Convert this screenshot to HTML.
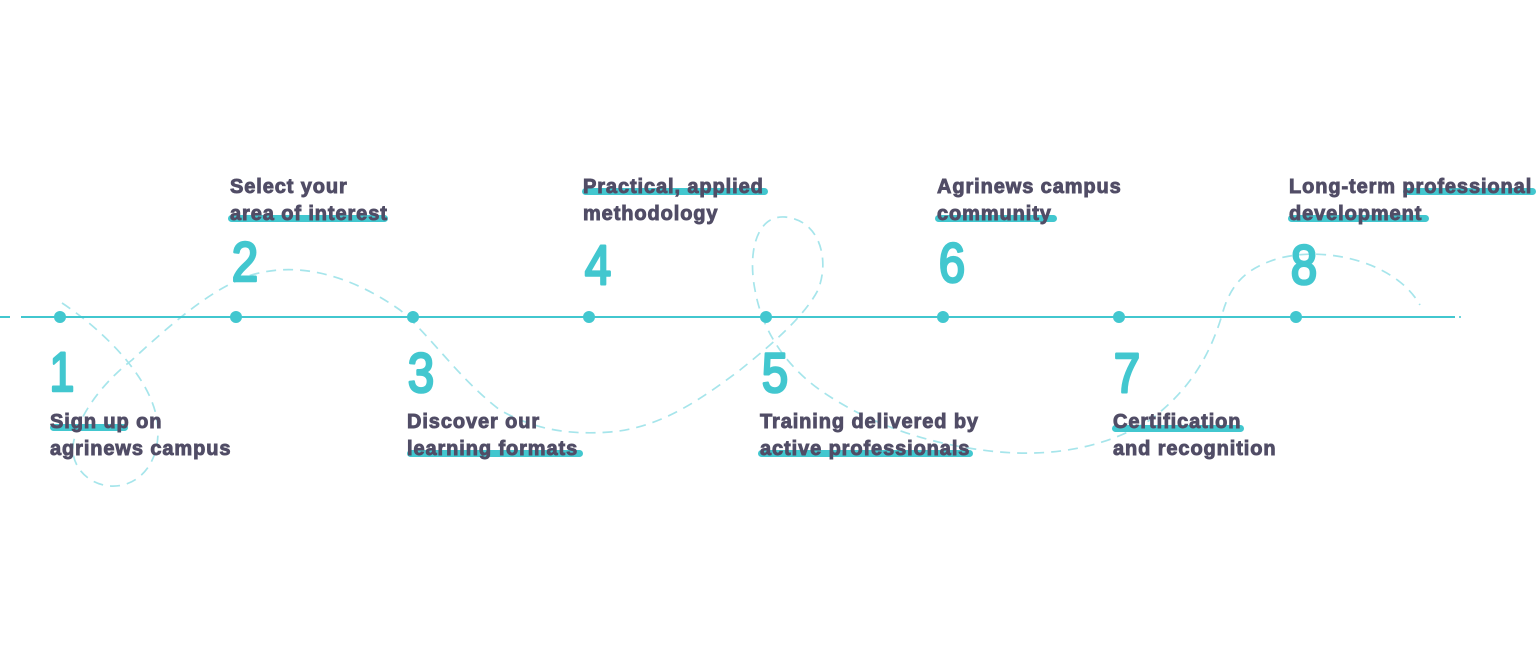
<!DOCTYPE html>
<html><head><meta charset="utf-8"><style>
html,body{margin:0;padding:0;background:#fff;}
svg{display:block;}
.t{font-family:"Liberation Sans",sans-serif;font-weight:700;font-size:20px;fill:#514D66;stroke:#514D66;stroke-width:0.9px;letter-spacing:0.9px;}
.n{font-family:"Liberation Sans",sans-serif;font-weight:400;font-size:56px;fill:#42C7CF;stroke:#42C7CF;stroke-width:2.6px;stroke-linejoin:round;}
</style></head><body>
<svg width="1536" height="654" viewBox="0 0 1536 654" xmlns="http://www.w3.org/2000/svg">
<rect width="1536" height="654" fill="#fff"/>
<path d="M62,303 C100,328 150,375 157,420 C163,460 140,488 110,486 C85,484 68,462 74,440 C80,415 100,385 132,360 C170,325 215,285 255,274 C300,262 350,275 400,310 C430,335 460,380 500,410 C535,430 570,435 610,432 C660,428 700,400 740,370 C775,342 805,315 818,290 C830,260 820,220 785,217 C755,215 748,255 755,290 C762,330 785,365 820,390 C860,418 920,445 1000,452 C1060,457 1110,445 1150,420 C1190,390 1210,355 1222,315 C1230,285 1245,268 1280,258 C1320,248 1370,258 1400,282 C1410,290 1416,298 1420,305" fill="none" stroke="#A6E5EB" stroke-width="1.7" stroke-dasharray="10 7"/>
<line x1="0" y1="317" x2="10" y2="317" stroke="#42C7CF" stroke-width="2"/>
<line x1="21" y1="317" x2="1455" y2="317" stroke="#42C7CF" stroke-width="2"/>
<circle cx="1460" cy="317" r="1" fill="#42C7CF"/>
<g fill="#42C7CF">
<circle cx="60" cy="317" r="6"/>
<circle cx="236" cy="317" r="6"/>
<circle cx="413" cy="317" r="6"/>
<circle cx="589" cy="317" r="6"/>
<circle cx="766" cy="317" r="6"/>
<circle cx="943" cy="317" r="6"/>
<circle cx="1119" cy="317" r="6"/>
<circle cx="1296" cy="317" r="6"/>
</g>
<g fill="#42C7CF">
<rect x="50" y="424" width="78" height="7" rx="3.5"/>
<rect x="228" y="215" width="160" height="7" rx="3.5"/>
<rect x="407" y="450" width="176" height="7" rx="3.5"/>
<rect x="582" y="188" width="186" height="7" rx="3.5"/>
<rect x="758" y="450" width="215" height="7" rx="3.5"/>
<rect x="935" y="215" width="122" height="7" rx="3.5"/>
<rect x="1112" y="425" width="132" height="7" rx="3.5"/>
<rect x="1403" y="188" width="133" height="7" rx="3.5"/>
<rect x="1288" y="215" width="141" height="7" rx="3.5"/>
</g>
<g class="n" text-anchor="middle">
<text x="0" y="0" transform="translate(62,391) scale(0.8,1)">1</text>
<text x="0" y="0" transform="translate(245,281) scale(0.85,1)">2</text>
<text x="0" y="0" transform="translate(421,392) scale(0.85,1)">3</text>
<text x="0" y="0" transform="translate(598,284) scale(0.85,1)">4</text>
<text x="0" y="0" transform="translate(775,392) scale(0.85,1)">5</text>
<text x="0" y="0" transform="translate(952,282) scale(0.85,1)">6</text>
<text x="0" y="0" transform="translate(1127,392) scale(0.85,1)">7</text>
<text x="0" y="0" transform="translate(1304,284) scale(0.85,1)">8</text>
</g>
<text class="t" x="50" y="428">Sign up on</text>
<text class="t" x="50" y="455">agrinews campus</text>
<text class="t" x="230" y="193">Select your</text>
<text class="t" x="230" y="220">area of interest</text>
<text class="t" x="407" y="428">Discover our</text>
<text class="t" x="407" y="455">learning formats</text>
<text class="t" x="583" y="193">Practical, applied</text>
<text class="t" x="583" y="220">methodology</text>
<text class="t" x="760" y="428">Training delivered by</text>
<text class="t" x="760" y="455">active professionals</text>
<text class="t" x="937" y="193">Agrinews campus</text>
<text class="t" x="937" y="220">community</text>
<text class="t" x="1113" y="428">Certification</text>
<text class="t" x="1113" y="455">and recognition</text>
<text class="t" x="1289" y="193">Long-term professional</text>
<text class="t" x="1289" y="220">development</text>
</svg>
</body></html>
